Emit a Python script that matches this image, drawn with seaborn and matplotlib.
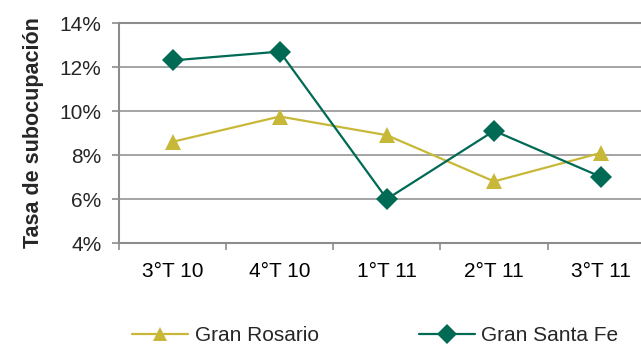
import numpy as np
import pandas as pd
import matplotlib

matplotlib.use("Agg")
import matplotlib.pyplot as plt
import seaborn as sns
from matplotlib.ticker import FixedLocator, PercentFormatter

# datos
periodos = ["3°T 10", "4°T 10", "1°T 11", "2°T 11", "3°T 11"]
gran_rosario = [8.6, 9.75, 8.9, 6.8, 8.1]
gran_santa_fe = [12.3, 12.7, 6.0, 9.1, 7.0]

COLORS = {
    "rosario": "#C8B838",
    "santa_fe": "#006A55",
    "grid": "#8C8C8C",
}

sns.set_theme(style="white")
plt.rcParams["font.family"] = ["Liberation Sans", "DejaVu Sans"]

df = pd.DataFrame({
    "x": list(range(len(periodos))) * 2,
    "valor": gran_rosario + gran_santa_fe,
    "serie": ["Gran Rosario"] * len(periodos) + ["Gran Santa Fe"] * len(periodos),
})

fig = plt.figure(figsize=(6.41, 3.44), dpi=100)
ax = fig.add_axes([0.1856, 0.2936, 0.836, 0.6395])

sns.lineplot(
    data=df, x="x", y="valor", hue="serie", style="serie",
    palette=[COLORS["rosario"], COLORS["santa_fe"]],
    markers=["^", "D"], dashes=False, markersize=11,
    markeredgewidth=0, linewidth=1.6, ax=ax,
)

ax.set_xlim(-0.5, 4.5)
ax.set_ylim(4, 14)
ax.set_yticks(np.arange(4, 15, 2))
ax.yaxis.set_major_formatter(PercentFormatter(decimals=0))
ax.grid(True, axis="y", color=COLORS["grid"], linewidth=1.1)

ax.xaxis.set_major_locator(FixedLocator(np.arange(-0.5, 5, 1)))
ax.xaxis.set_minor_locator(FixedLocator(np.arange(0, 5, 1)))
ax.set_xticklabels([], minor=False)
ax.set_xticklabels(periodos, minor=True)
ax.tick_params(axis="x", which="major", direction="out", length=5,
               color=COLORS["grid"], width=1.2, bottom=True)
ax.tick_params(axis="x", which="minor", length=0, labelsize=15, pad=14,
               colors="black")
ax.tick_params(axis="y", direction="out", length=5, color=COLORS["grid"],
               width=1.2, left=True, labelsize=15, pad=7.5)

for s in ax.spines.values():
    s.set_color(COLORS["grid"])
    s.set_linewidth(1.5)

ax.set_xlabel("")
ax.set_ylabel("Tasa de subocupación", fontsize=15.5, fontweight="bold",
              labelpad=11)

handles, labels = ax.get_legend_handles_labels()
ax.legend(handles, labels, loc="center", bbox_to_anchor=(0.478, -0.42),
          ncol=2, frameon=False, fontsize=15, columnspacing=4.8,
          handlelength=2.7, handletextpad=0.3, markerscale=0.95)

fig.savefig("out.png", dpi=100)
